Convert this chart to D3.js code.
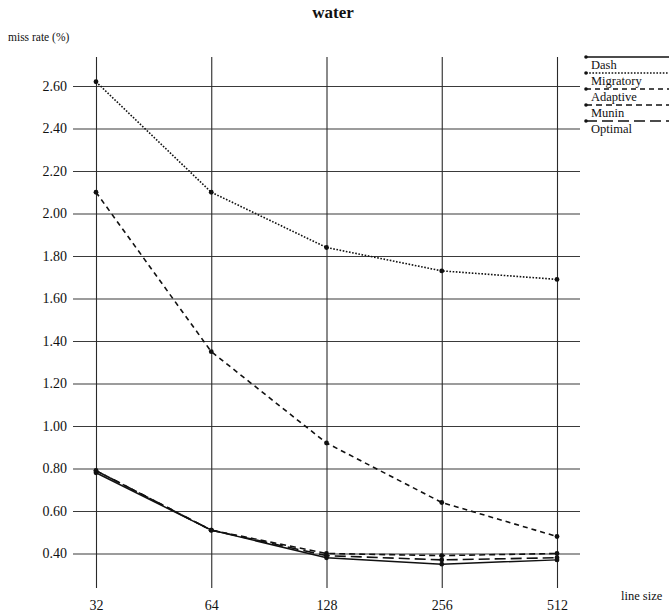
<!DOCTYPE html>
<html>
<head>
<meta charset="utf-8">
<script src="https://cdn.jsdelivr.net/npm/d3@7"></script>
<style>
  html, body { margin: 0; padding: 0; background: #fff; }
  svg { display: block; font-family: "Liberation Serif", "DejaVu Serif", serif; }
</style>
</head>
<body>
<svg id="chart" width="669" height="616"></svg>
<script>
// Line sizes (bytes) on the x axis
const lineSizes = [32, 64, 128, 256, 512];
// Y tick values (miss rate, %)
const yTicks = [0.40, 0.60, 0.80, 1.00, 1.20, 1.40, 1.60, 1.80, 2.00, 2.20, 2.40, 2.60];

// Miss rate per protocol, one value per line size
const dash      = [0.78, 0.51, 0.38, 0.35, 0.37];
const migratory = [2.62, 2.10, 1.84, 1.73, 1.69];
const adaptive  = [2.10, 1.35, 0.92, 0.64, 0.48];
const munin     = [0.79, 0.51, 0.40, 0.39, 0.40];
const optimal   = [0.79, 0.51, 0.39, 0.37, 0.38];

const seriesNames = ["Dash", "Migratory", "Adaptive", "Munin", "Optimal"];
const seriesValues = [dash, migratory, adaptive, munin, optimal];
const seriesDash = [null, "1.6,1.6", "5,4", "6,4", "11,5"];

const svg = d3.select("#chart");

const x = d3.scaleLog().base(2).domain([32, 512]).range([96, 557]);
const y = d3.scaleLinear().domain([0.40, 2.60]).range([553.5, 86]);

const gridLeft = 73, gridRight = 580, gridTop = 57, gridBottom = 588;

// Horizontal grid + y labels
const yAxis = d3.axisLeft(y)
  .tickValues(yTicks)
  .tickFormat(d3.format(".2f"))
  .tickSize(-(gridRight - gridLeft))
  .tickPadding(6);
const gy = svg.append("g")
  .attr("transform", `translate(${gridLeft},0)`)
  .call(yAxis);
gy.select(".domain").remove();
gy.selectAll(".tick line").attr("stroke", "#3a3a3a").attr("stroke-width", 1.1);
gy.selectAll(".tick text")
  .attr("font-family", "Liberation Serif, serif")
  .attr("font-size", 14)
  .attr("fill", "#111");

// Vertical grid + x labels
const xAxis = d3.axisBottom(x)
  .tickValues(lineSizes)
  .tickFormat(d3.format("d"))
  .tickSize(-(gridBottom - gridTop))
  .tickPadding(12);
const gx = svg.append("g")
  .attr("transform", `translate(0,${gridBottom})`)
  .call(xAxis);
gx.select(".domain").remove();
gx.selectAll(".tick line").attr("stroke", "#2a2a2a").attr("stroke-width", 1.1);
gx.selectAll(".tick text")
  .attr("font-family", "Liberation Serif, serif")
  .attr("font-size", 14)
  .attr("fill", "#111");

// Series lines and point markers
const line = d3.line()
  .x((d, i) => x(lineSizes[i]))
  .y(d => y(d));

seriesValues.forEach((vals, k) => {
  const path = svg.append("path")
    .datum(vals)
    .attr("d", line)
    .attr("fill", "none")
    .attr("stroke", "#111")
    .attr("stroke-width", k === 0 ? 1.5 : 1.6);
  if (seriesDash[k]) path.attr("stroke-dasharray", seriesDash[k]);
  svg.append("g").selectAll("circle")
    .data(vals)
    .join("circle")
    .attr("cx", (d, i) => x(lineSizes[i]))
    .attr("cy", d => y(d))
    .attr("r", 2.4)
    .attr("fill", "#111");
});

// Title and axis titles
svg.append("text")
  .attr("x", 333).attr("y", 18)
  .attr("text-anchor", "middle")
  .attr("font-size", 17).attr("font-weight", "bold")
  .attr("fill", "#111")
  .text("water");

svg.append("text")
  .attr("x", 8).attr("y", 41)
  .attr("font-size", 11.5)
  .attr("fill", "#111")
  .text("miss rate (%)");

svg.append("text")
  .attr("x", 621).attr("y", 600)
  .attr("font-size", 12.5)
  .attr("fill", "#111")
  .text("line size");

// Legend
const legend = svg.append("g");
seriesNames.forEach((name, k) => {
  const ly = 57 + k * 16;
  const l = legend.append("line")
    .attr("x1", 586).attr("x2", 672)
    .attr("y1", ly).attr("y2", ly)
    .attr("stroke", "#111")
    .attr("stroke-width", 1.5);
  if (seriesDash[k]) l.attr("stroke-dasharray", seriesDash[k]);
  legend.append("circle")
    .attr("cx", 586).attr("cy", ly).attr("r", 1.8).attr("fill", "#111");
  legend.append("text")
    .attr("x", 591).attr("y", ly + 11.5)
    .attr("font-size", 12.5)
    .attr("fill", "#111")
    .text(name);
});
</script>
</body>
</html>
